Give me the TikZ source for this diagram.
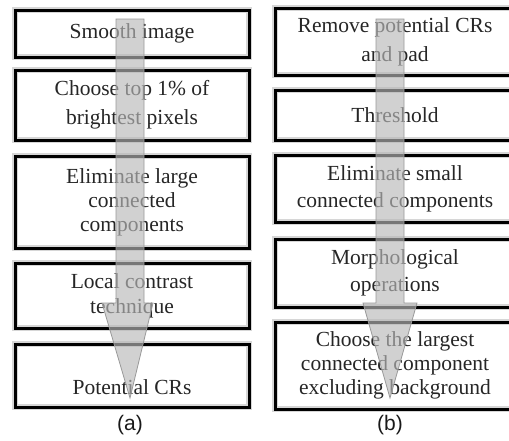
\documentclass[tikz,border=0pt]{standalone}
\usepackage{fontspec}
\setmainfont{Liberation Serif}
\newfontfamily\boxfont{Liberation Serif}
\newfontfamily\labelfont{Liberation Sans}
\begin{document}
\begin{tikzpicture}[x=1pt,y=-1pt,
  stepbox/.style={rectangle, inner sep=0pt, align=center, text=black!85,
    font=\boxfont\fontsize{21.5}{28}\selectfont,
    preaction={draw=black!16, line width=6.5pt},
    draw=black, line width=3pt},
  blockarrow/.style={fill=black!28, fill opacity=0.65, draw=black!40, line width=0.8pt},
  sublabel/.style={font=\labelfont\fontsize{21}{24}\selectfont, text=black!90, inner sep=0pt}]
\useasboundingbox (0,0) rectangle (509,440);
% left column
\node[stepbox, minimum width=234pt, minimum height=47pt] (a1) at (132,33.5) {Smooth image};
\node[stepbox, minimum width=234pt, minimum height=70pt, font=\boxfont\fontsize{21.5}{29}\selectfont] (a2) at (132,105) {Choose top 1\% of\\brightest pixels};
\node[stepbox, minimum width=234pt, minimum height=92pt, font=\boxfont\fontsize{21.5}{24}\selectfont] (a3) at (132,202) {Eliminate large\\connected\\components};
\node[stepbox, minimum width=234pt, minimum height=65pt, font=\boxfont\fontsize{21.5}{25}\selectfont] (a4) at (132,295.5) {Local contrast\\technique};
\node[stepbox, minimum width=234pt, text height=50pt, text depth=13pt] (a5) at (132,375.5) {Potential CRs};
% right column
\node[stepbox, minimum width=240pt, minimum height=67pt, font=\boxfont\fontsize{21.5}{29}\selectfont] (b1) at (395,41.5) {Remove potential CRs\\and pad};
\node[stepbox, minimum width=240pt, minimum height=50pt] (b2) at (395,115) {Threshold};
\node[stepbox, minimum width=240pt, minimum height=67pt, font=\boxfont\fontsize{21.5}{27}\selectfont] (b3) at (395,188.5) {Eliminate small\\connected components};
\node[stepbox, minimum width=240pt, minimum height=68pt, font=\boxfont\fontsize{21.5}{27}\selectfont] (b4) at (395,273) {Morphological\\operations};
\node[stepbox, minimum width=240pt, minimum height=87pt, font=\boxfont\fontsize{21.5}{24}\selectfont] (b5) at (395,365.5) {Choose the largest\\connected component\\excluding background};
% labels
\node[sublabel] (la) at (130,425) {(a)};
\node[sublabel] (lb) at (390,425) {(b)};
% block arrows
\coordinate (ta) at (130,398);
\coordinate (tb) at (390,398);
\draw[blockarrow] (116,19) -- (144,19) -- (144,303) -- (153,303) -- (ta) -- (102,303) -- (116,303) -- cycle;
\draw[blockarrow] (376,19) -- (404,19) -- (404,303) -- (417,303) -- (tb) -- (363,303) -- (376,303) -- cycle;
\end{tikzpicture}
\end{document}
